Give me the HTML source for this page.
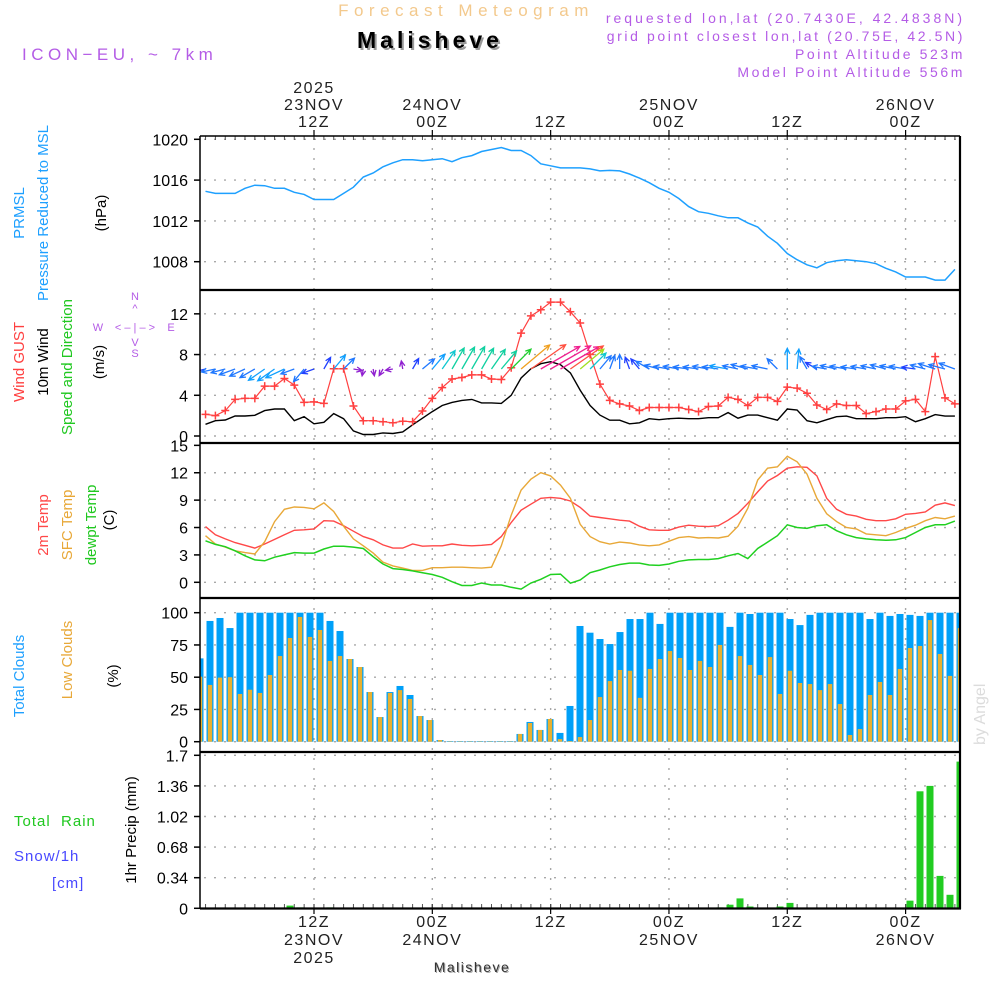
<!DOCTYPE html>
<html><head><meta charset="utf-8"><style>
html,body{margin:0;padding:0;background:#fff;width:1000px;height:1000px;overflow:hidden}
svg text{font-family:"Liberation Sans",sans-serif}
</style></head><body>
<svg id="chart" xmlns="http://www.w3.org/2000/svg" width="1000" height="1000" viewBox="0 0 1000 1000">
<g>
<text x="466" y="16" font-size="17" fill="#f3c98d" text-anchor="middle" letter-spacing="5.5">Forecast Meteogram</text>
<text x="432" y="50" font-size="23" font-weight="bold" fill="#9a9a9a" text-anchor="middle" letter-spacing="4">Malisheve</text>
<text x="430" y="48" font-size="23" font-weight="bold" fill="#000" text-anchor="middle" letter-spacing="4">Malisheve</text>
<text x="22" y="60" font-size="17" fill="#b45ce6" letter-spacing="4.5">ICON−EU, ~ 7km</text>
<text x="965" y="23" font-size="14" fill="#b45ce6" text-anchor="end" letter-spacing="3">requested lon,lat (20.7430E, 42.4838N)</text>
<text x="965" y="41" font-size="14" fill="#b45ce6" text-anchor="end" letter-spacing="2.6">grid point closest lon,lat (20.75E, 42.5N)</text>
<text x="965" y="59" font-size="14" fill="#b45ce6" text-anchor="end" letter-spacing="2.6">Point Altitude 523m</text>
<text x="965" y="77" font-size="14" fill="#b45ce6" text-anchor="end" letter-spacing="2.6">Model Point Altitude 556m</text>
<text transform="translate(985,745) rotate(-90)" font-size="16" fill="#dcdcdc" font-family="Liberation Serif,serif">by Angel</text>
<text x="473" y="973" font-size="14" fill="#aaa" text-anchor="middle" letter-spacing="1.5">Malisheve</text>
<text x="472" y="972" font-size="14" fill="#333" text-anchor="middle" letter-spacing="1.5">Malisheve</text>
</g>
<g font-size="15">
<text transform="translate(24,213) rotate(-90)" fill="#1ea0ff" text-anchor="middle">PRMSL</text>
<text transform="translate(48,213) rotate(-90)" fill="#1ea0ff" text-anchor="middle">Pressure Reduced to MSL</text>
<text transform="translate(106,213) rotate(-90)" fill="#000" text-anchor="middle">(hPa)</text>
<text transform="translate(24,362) rotate(-90)" fill="#ff4040" text-anchor="middle">Wind GUST</text>
<text transform="translate(48,362) rotate(-90)" fill="#000" text-anchor="middle">10m Wind</text>
<text transform="translate(72,367) rotate(-90)" fill="#20c820" text-anchor="middle">Speed and Direction</text>
<text transform="translate(104,362) rotate(-90)" fill="#000" text-anchor="middle">(m/s)</text>
<g fill="#b45ce6" font-size="11" text-anchor="middle">
<text x="135" y="300">N</text><text x="135" y="312">^</text><text x="135" y="331">&lt; – | – &gt;</text><text x="98" y="331">W</text><text x="171" y="331">E</text><text x="135" y="346">V</text><text x="135" y="357">S</text></g>
<text transform="translate(48,525) rotate(-90)" fill="#ff4848" text-anchor="middle">2m Temp</text>
<text transform="translate(72,525) rotate(-90)" fill="#e8a838" text-anchor="middle">SFC Temp</text>
<text transform="translate(96,525) rotate(-90)" fill="#20c820" text-anchor="middle">dewpt Temp</text>
<text transform="translate(114,520) rotate(-90)" fill="#000" text-anchor="middle">(C)</text>
<text transform="translate(24,676) rotate(-90)" fill="#1ea0ff" text-anchor="middle">Total Clouds</text>
<text transform="translate(72,660) rotate(-90)" fill="#e8a838" text-anchor="middle">Low Clouds</text>
<text transform="translate(118,676) rotate(-90)" fill="#000" text-anchor="middle">(%)</text>
<text x="14" y="826" fill="#20c820" xml:space="preserve" letter-spacing="1">Total  Rain</text>
<text x="14" y="861" fill="#4848ff" letter-spacing="1">Snow/1h</text>
<text x="52" y="888" fill="#4848ff" letter-spacing="1">[cm]</text>
<text transform="translate(136,830) rotate(-90)" fill="#000" text-anchor="middle">1hr Precip (mm)</text>
</g>
<g id="plot"></g>
</svg>
<script>
const hours = [];
for (let h = 1; h <= 77; h++) hours.push(h);
const pressure = [1014.9,1014.7,1014.7,1014.7,1015.2,1015.5,1015.45,1015.2,1015.2,1014.8,1014.6,1014.1,1014.1,1014.1,1014.7,1015.3,1016.3,1016.7,1017.3,1017.7,1018.0,1018.0,1017.9,1018.0,1018.1,1017.8,1018.2,1018.4,1018.8,1019.0,1019.2,1018.9,1018.9,1018.4,1017.6,1017.4,1017.2,1017.2,1017.2,1017.1,1016.9,1016.95,1016.9,1016.6,1016.2,1015.75,1015.2,1014.8,1014.2,1013.4,1012.9,1012.75,1012.5,1012.3,1012.3,1011.8,1011.4,1010.5,1009.8,1008.8,1008.2,1007.7,1007.4,1007.9,1008.1,1008.2,1008.1,1008.0,1007.8,1007.35,1007.0,1006.5,1006.5,1006.5,1006.2,1006.2,1007.25];
const gust = [2.13,2.0,2.5,3.6,3.7,3.7,4.9,4.9,5.65,5.0,3.3,3.35,3.2,6.6,6.6,2.95,1.5,1.5,1.4,1.3,1.45,1.4,2.45,3.7,4.75,5.6,5.75,6.0,6.0,5.6,5.55,6.7,10.1,11.8,12.4,13.15,13.15,12.2,11.1,8.0,5.1,3.5,3.15,2.95,2.5,2.8,2.8,2.8,2.8,2.6,2.4,2.9,2.95,3.8,3.6,3.0,3.8,3.8,3.4,4.8,4.7,4.2,3.05,2.6,3.15,3.0,3.0,2.2,2.4,2.65,2.65,3.45,3.6,2.4,7.8,3.75,3.15];
const wind = [1.15,1.5,1.57,1.96,1.96,2.03,2.5,2.65,2.65,1.5,1.9,1.2,1.35,2.2,1.7,0.5,0.15,0.15,0.3,0.25,0.4,1.1,1.75,2.4,3.0,3.3,3.5,3.6,3.25,3.25,3.2,4.0,5.7,6.6,7.1,7.3,7.0,6.2,4.5,3.0,2.05,1.55,1.55,1.2,1.3,1.7,1.6,1.7,1.75,1.7,1.7,1.8,1.8,2.3,1.75,2.05,2.05,1.8,1.55,2.65,2.55,1.5,1.3,1.6,1.9,1.95,1.7,1.7,1.7,1.8,1.8,1.9,1.4,1.7,2.1,1.95,1.95];
const windDir = [255,258,255,250,245,240,235,235,245,250,220,250,30,40,45,100,190,170,210,260,350,30,50,40,35,30,30,30,30,35,40,45,50,55,60,60,60,55,50,45,40,20,0,340,320,300,285,280,280,278,278,280,278,280,282,285,280,282,315,0,5,330,300,280,282,280,278,280,282,285,282,280,278,285,288,285,290];
const temp2m = [6.1,5.2,4.75,4.35,4.05,3.75,4.2,4.7,5.2,5.7,5.75,5.85,6.75,6.7,6.2,5.6,5.0,4.65,4.1,3.75,3.75,4.2,3.95,4.0,4.0,4.2,4.05,4.0,4.05,4.15,5.0,6.55,7.9,8.55,9.2,9.3,9.2,8.9,8.2,7.25,7.1,6.95,6.8,6.7,6.15,5.75,5.7,5.7,6.05,6.25,6.15,6.1,6.2,6.8,7.55,8.65,9.9,11.1,11.7,12.5,12.65,12.6,11.65,9.2,8.0,7.45,7.25,6.9,6.75,6.75,6.95,7.45,7.55,7.7,8.45,8.7,8.4];
const tempSfc = [5.1,4.2,3.85,3.45,3.25,3.1,4.45,6.65,8.0,8.25,8.2,8.05,8.7,7.75,6.15,4.75,4.0,3.2,2.2,1.8,1.55,1.3,1.3,1.6,1.6,1.65,1.65,1.6,1.55,1.65,4.0,7.35,10.1,11.3,12.0,11.65,10.65,9.2,6.35,5.0,4.45,4.2,4.4,4.3,4.1,4.0,4.1,4.5,4.9,5.0,4.85,4.9,4.85,5.05,6.15,8.1,11.2,12.5,12.65,13.8,13.2,11.85,9.2,7.5,6.65,6.0,5.85,5.3,5.2,5.1,5.45,5.9,6.25,6.75,7.1,6.95,7.25];
const dewpt = [4.55,4.15,3.9,3.45,2.9,2.45,2.35,2.75,3.0,3.25,3.2,3.2,3.65,3.95,3.95,3.85,3.7,2.8,2.0,1.5,1.4,1.25,1.05,0.85,0.55,0.07,-0.35,-0.35,-0.08,-0.3,-0.3,-0.55,-0.75,-0.08,0.33,0.85,0.9,-0.1,0.25,1.05,1.35,1.7,1.95,2.1,2.1,1.9,1.85,2.0,2.3,2.45,2.5,2.5,2.6,2.9,3.15,2.6,3.7,4.4,5.1,6.3,6.0,5.9,6.2,6.3,5.65,5.2,4.9,4.75,4.65,4.6,4.65,4.9,5.45,6.0,6.3,6.3,6.7];
const totalClouds = [64.6,93.6,95.9,88.1,100,100,100,100,100,100,100,100,100,93.6,85.8,64.1,57.9,38.5,19.1,38.5,43.2,36.2,19.9,16.8,1.3,0.5,0.5,0.5,0.5,0.5,0.5,0.5,6,15.3,9.1,17.6,6.8,27.7,89.7,84.5,79.6,75.7,85,95.1,95.1,100,91.3,100,100,100,100,100,100,89,100,99,100,100,100,95.1,90.4,98.3,100,100,100,100,100,95.1,100,97.5,99,98.3,97.5,100,100,100,100];
const lowClouds = [50.4,44,49.7,50,37,40.3,37.8,51.7,66.4,80.4,96.7,81.2,86.6,62.6,66.4,64.1,57.9,38.5,19.1,37.8,40,33.1,19.9,16.8,1.3,0.3,0.3,0.3,0.3,0.3,0.3,0.3,6,14.5,9.1,17.6,2,0.5,3.6,16.8,34.6,47,55.6,55,34,56.4,64.1,70.3,64.9,55.6,62.6,57.9,75,47.8,66.4,59.5,51.7,65.6,37,55,45.5,44.7,40,44.7,29.2,5.2,9.8,36.2,46.3,36.2,56.4,72.6,74.2,94.3,68,51,88.1];
const precip = [0,0,0,0,0,0,0,0,0,0.03,0.01,0,0,0.01,0,0,0,0,0,0,0,0,0,0,0,0,0,0,0,0,0,0,0,0,0,0,0,0,0,0,0,0,0,0,0,0,0,0,0,0,0,0,0.01,0.04,0.11,0.02,0,0,0.02,0.06,0,0,0,0,0,0,0,0,0,0,0,0.085,1.30,1.36,0.36,0.15,1.63];
const pTicks = [1020,1016,1012,1008];
const wTicks = [12,8,4,0];
const tTicks = [15,12,9,6,3,0];
const cTicks = [100,75,50,25,0];
const rTicks = ["1.7","1.36","1.02","0.68","0.34","0"];
const timeTicks = [12,24,36,48,60,72];
const topDays = ["23NOV","24NOV","","25NOV","","26NOV"];
const topHours = ["12Z","00Z","12Z","00Z","12Z","00Z"];

const NS = "http://www.w3.org/2000/svg";
const plot = document.getElementById("plot");
const X0 = 200, X1 = 960;
function xH(h){ return 314 + (h - 12) * 9.86; }
function xB(i){ return 200 + 10 * i; }
function yP(v){ return 139.3 + (1020 - v) * 10.2; }
function yW(v){ return 436 - v * 10.18; }
function yT(v){ return 582.3 - v * 9.13; }
function yC(v){ return 741.7 - v * 1.29; }
function yR(v){ return 908.3 - v * 90; }
function mk(tag, attrs, parent){
  const e = document.createElementNS(NS, tag);
  for (const k in attrs) e.setAttribute(k, attrs[k]);
  (parent || plot).appendChild(e);
  return e;
}
const defs = mk("defs", {});
const panels = [["p1",136,290],["p2",290,443],["p3",443,598],["p4",598,752],["p5",752,908]];
panels.forEach(p => {
  const c = mk("clipPath", {id: "clip-" + p[0]}, defs);
  mk("rect", {x: X0, y: p[1], width: X1 - X0, height: p[2] - p[1]}, c);
});
const grid = mk("g", {stroke: "#a8a8a8", "stroke-width": 1.4, "stroke-dasharray": "2,8"});


timeTicks.forEach(h => {
  const l = mk("line", {x1: xH(h), x2: xH(h), y1: 138, y2: 908}, grid);
  
  
});
function hgrid(ticks, fy){
  ticks.forEach(v => {
    const l = mk("line", {x1: 204, x2: X1, y1: fy(+v), y2: fy(+v)}, grid);
    
    
  });
}
hgrid(pTicks, yP); hgrid(wTicks, yW); hgrid(tTicks.slice(1), yT); hgrid(cTicks, yC); hgrid(rTicks.slice(0,5), yR);

function axisLabels(ticks, fy, name){
  ticks.forEach(v => {
    const y = fy(+v);
    const t = mk("text", {x: 188, y: y + 6, "font-size": 16, "text-anchor": "end", fill: "#000"});
    
    
    t.textContent = v;
    mk("line", {x1: 194, x2: 200, y1: y, y2: y, stroke: "#000", "stroke-width": 1.5});
  });
}
axisLabels(pTicks, yP, "pressure-tick-label");
axisLabels(wTicks, yW, "wind-tick-label");
axisLabels(tTicks, yT, "temp-tick-label");
axisLabels(cTicks, yC, "cloud-tick-label");
axisLabels(rTicks, yR, "precip-tick-label");

timeTicks.forEach((h, i) => {
  const x = xH(h);
  const a = mk("text", {x: x, y: 127, "font-size": 16, "text-anchor": "middle", fill: "#222", "letter-spacing": 1.5});
  
  
  a.textContent = topHours[i];
  const b = mk("text", {x: x, y: 927, "font-size": 16, "text-anchor": "middle", fill: "#222", "letter-spacing": 1.5});
  
  
  b.textContent = topHours[i];
  if (topDays[i]) {
    const c = mk("text", {x: x, y: 110, "font-size": 16, "text-anchor": "middle", fill: "#222", "letter-spacing": 1.5});
    
    
    c.textContent = topDays[i];
    const d = mk("text", {x: x, y: 945, "font-size": 16, "text-anchor": "middle", fill: "#222", "letter-spacing": 1.5});
    
    
    d.textContent = topDays[i];
  }
  mk("line", {x1: x, x2: x, y1: 130, y2: 140, stroke: "#000", "stroke-width": 1.2});
  mk("line", {x1: x, x2: x, y1: 904, y2: 914, stroke: "#000", "stroke-width": 1.2});
});
const y1 = mk("text", {x: xH(12), y: 93, "font-size": 16, "text-anchor": "middle", fill: "#222", "letter-spacing": 1.5});


y1.textContent = "2025";
const y2 = mk("text", {x: xH(12), y: 963, "font-size": 16, "text-anchor": "middle", fill: "#222", "letter-spacing": 1.5});


y2.textContent = "2025";
hours.forEach(h => {
  const x = xH(h);
  if (x > X0 && x < X1) {
    mk("line", {x1: x, x2: x, y1: 136, y2: 140, stroke: "#555", "stroke-width": 1});
    mk("line", {x1: x, x2: x, y1: 904, y2: 908, stroke: "#555", "stroke-width": 1});
  }
});

function linePath(vals, fy, color, name, clip, w){
  const d = vals.map((v, i) => (i ? "L" : "M") + xH(hours[i]).toFixed(1) + "," + fy(v).toFixed(1)).join("");
  const p = mk("path", {d: d, fill: "none", stroke: color, "stroke-width": w || 1.4, "clip-path": "url(#clip-" + clip + ")"});
  
  
  return p;
}
linePath(pressure, yP, "#1ea0ff", "pressure-line", "p1", 1.5);
linePath(wind, yW, "#000", "wind-speed-line", "p2", 1.4);
linePath(gust, yW, "#ff4040", "gust-line", "p2", 1.2);
gust.forEach((v, i) => {
  const x = xH(hours[i]), y = yW(v);
  const g = mk("path", {d: `M${x-4},${y}H${x+4}M${x},${y-4}V${y+4}`, stroke: "#ff4040", "stroke-width": 1.5, "clip-path": "url(#clip-p2)"});
  
  
});
function windColor(v){
  if (v < 0.6) return "#9020d0";
  if (v < 1.5) return "#2040ff";
  if (v < 2.2) return "#2078ff";
  if (v < 2.8) return "#10a0ff";
  if (v < 3.2) return "#10c8d0";
  if (v < 3.7) return "#10d0a0";
  if (v < 4.3) return "#20d030";
  if (v < 5.0) return "#a0e020";
  if (v < 6.0) return "#f0a020";
  if (v < 6.8) return "#ff5040";
  return "#f02090";
}
wind.forEach((v, i) => {
  const x = xH(hours[i]), y = 369;
  const a = windDir[i] * Math.PI / 180;
  const L = 6 + 5.5 * v;
  const dx = Math.sin(a), dy = -Math.cos(a);
  const ex = x + dx * L, ey = y + dy * L;
  const hl = 6, ang = 0.45;
  const h1x = ex - hl * (dx * Math.cos(ang) - dy * Math.sin(ang));
  const h1y = ey - hl * (dy * Math.cos(ang) + dx * Math.sin(ang));
  const h2x = ex - hl * (dx * Math.cos(-ang) - dy * Math.sin(-ang));
  const h2y = ey - hl * (dy * Math.cos(-ang) + dx * Math.sin(-ang));
  const p = mk("path", {d: `M${x},${y}L${ex},${ey}M${h1x},${h1y}L${ex},${ey}L${h2x},${h2y}`, stroke: windColor(v), "stroke-width": 1.3, fill: "none", "clip-path": "url(#clip-p2)"});
  
  
});
linePath(temp2m, yT, "#ff4848", "temp-2m-line", "p3", 1.4);
linePath(tempSfc, yT, "#e8a838", "temp-sfc-line", "p3", 1.4);
linePath(dewpt, yT, "#20d020", "dewpoint-line", "p3", 1.5);
totalClouds.forEach((v, i) => {
  const r = mk("rect", {x: xB(i) - 3.5, y: yC(v), width: 7, height: yC(0) - yC(v), fill: "#00a0f8", "clip-path": "url(#clip-p4)"});
  
  
});
lowClouds.forEach((v, i) => {
  const r = mk("rect", {x: xB(i) - 2.2, y: yC(v), width: 4.4, height: yC(0) - yC(v), fill: "#e8b030", "clip-path": "url(#clip-p4)"});
  
  
});
precip.forEach((v, i) => {
  if (v <= 0) return;
  const r = mk("rect", {x: xB(i) - 3.5, y: yR(v), width: 7, height: yR(0) - yR(v), fill: "#22cc22", "clip-path": "url(#clip-p5)"});
  
  
});
const fr = mk("g", {stroke: "#000", fill: "none"});


mk("line", {x1: X0, x2: X1, y1: 136, y2: 136, "stroke-width": 1.5}, fr);
[290, 443, 598, 752].forEach(y => mk("line", {x1: X0, x2: X1 + 1, y1: y, y2: y, "stroke-width": 2.2}, fr));
mk("line", {x1: X0, x2: X1 + 1, y1: 908.5, y2: 908.5, "stroke-width": 2.2}, fr);
mk("line", {x1: X0, x2: X0, y1: 136, y2: 909, "stroke-width": 1.5}, fr);
mk("line", {x1: X1, x2: X1, y1: 136, y2: 909, "stroke-width": 2.2}, fr);
</script>
</body></html>
